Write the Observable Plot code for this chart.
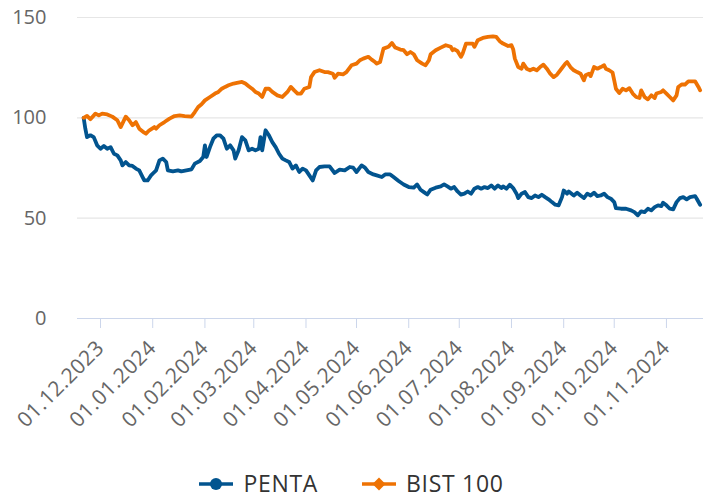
<!DOCTYPE html>
<html>
<head>
<meta charset="utf-8">
<script src="https://cdn.jsdelivr.net/npm/d3@7"></script>
<script src="https://cdn.jsdelivr.net/npm/@observablehq/plot@0.6"></script>
<style>
  html, body { margin: 0; padding: 0; background: #fff; overflow: hidden; }
  #chart svg { display: block; }
  #chart g[aria-label="x-axis tick label"] text { letter-spacing: 0.5px; }
  #legend { display: flex; justify-content: center; align-items: center; height: 31px; padding-top: 6px;
    font-family: "Open Sans", sans-serif; font-size: 23px; line-height: 31px; color: #333; letter-spacing: 0.7px; }
  .item { display: flex; align-items: center; }
  .item svg { margin-right: 10px; }
</style>
</head>
<body>
<div id="chart"></div>
<div id="legend"></div>
<script>
const seriesNames = ["PENTA", "BIST 100"];
const seriesColors = ["#02548f", "#ee7203"];
const yTicks = [0, 50, 100, 150];

const pentaDates = ["2023-11-21","2023-11-22","2023-11-23","2023-11-25","2023-11-27","2023-11-29","2023-12-01","2023-12-03","2023-12-05","2023-12-07","2023-12-09","2023-12-11","2023-12-13","2023-12-14","2023-12-16","2023-12-18","2023-12-20","2023-12-22","2023-12-24","2023-12-26","2023-12-27","2023-12-29","2023-12-31","2024-01-02","2024-01-03","2024-01-05","2024-01-07","2024-01-09","2024-01-10","2024-01-13","2024-01-16","2024-01-18","2024-01-21","2024-01-24","2024-01-26","2024-01-29","2024-01-31","2024-02-01","2024-02-02","2024-02-04","2024-02-06","2024-02-08","2024-02-10","2024-02-12","2024-02-14","2024-02-16","2024-02-18","2024-02-19","2024-02-21","2024-02-23","2024-02-25","2024-02-27","2024-02-29","2024-03-02","2024-03-04","2024-03-05","2024-03-06","2024-03-08","2024-03-10","2024-03-12","2024-03-14","2024-03-16","2024-03-18","2024-03-20","2024-03-22","2024-03-24","2024-03-26","2024-03-28","2024-03-30","2024-04-01","2024-04-03","2024-04-05","2024-04-07","2024-04-09","2024-04-12","2024-04-15","2024-04-18","2024-04-21","2024-04-24","2024-04-27","2024-04-29","2024-05-01","2024-05-04","2024-05-06","2024-05-08","2024-05-11","2024-05-13","2024-05-16","2024-05-18","2024-05-21","2024-05-23","2024-05-26","2024-05-29","2024-06-01","2024-06-04","2024-06-06","2024-06-08","2024-06-10","2024-06-12","2024-06-14","2024-06-17","2024-06-20","2024-06-22","2024-06-24","2024-06-26","2024-06-28","2024-06-30","2024-07-02","2024-07-04","2024-07-06","2024-07-08","2024-07-10","2024-07-12","2024-07-14","2024-07-16","2024-07-18","2024-07-20","2024-07-22","2024-07-24","2024-07-26","2024-07-27","2024-07-29","2024-07-31","2024-08-02","2024-08-04","2024-08-05","2024-08-07","2024-08-09","2024-08-11","2024-08-13","2024-08-15","2024-08-17","2024-08-19","2024-08-21","2024-08-23","2024-08-25","2024-08-27","2024-08-29","2024-08-31","2024-09-01","2024-09-03","2024-09-04","2024-09-07","2024-09-09","2024-09-11","2024-09-13","2024-09-15","2024-09-17","2024-09-19","2024-09-21","2024-09-23","2024-09-25","2024-09-27","2024-09-29","2024-10-01","2024-10-02","2024-10-05","2024-10-08","2024-10-11","2024-10-13","2024-10-15","2024-10-17","2024-10-19","2024-10-21","2024-10-23","2024-10-25","2024-10-27","2024-10-29","2024-10-30","2024-11-01","2024-11-03","2024-11-05","2024-11-07","2024-11-09","2024-11-11","2024-11-13","2024-11-15","2024-11-18","2024-11-19","2024-11-21"];
const pentaValues = [100,94.6,90.4,91.3,90.4,86.3,84.6,86.0,84.6,85.4,82.1,81.3,78.8,76.3,78.0,76.3,76.0,74.7,73.8,70.5,68.8,68.8,71.3,73.0,73.8,78.8,79.7,78.0,73.8,73.3,73.8,73.3,73.8,74.3,77.2,78.5,80.5,86.3,80.5,85.4,89.6,91.3,91.3,89.6,84.6,86.3,83.8,79.7,83.8,90.4,88.8,83.8,84.6,83.8,84.6,90.4,83.8,93.8,91.3,87.9,85.4,82.1,79.7,78.8,78.0,74.7,76.3,73.0,74.7,73.8,71.3,68.8,73.8,75.5,75.8,75.8,72.5,74.2,73.8,75.5,75.2,73.0,76.3,75.2,73.0,71.8,71.3,70.5,71.8,71.8,70.5,68.5,66.8,65.5,65.2,66.8,64.2,63.0,61.8,64.2,65.2,65.8,66.8,65.8,64.7,65.5,63.3,61.7,62.2,63.3,62.2,64.7,65.5,64.7,65.5,65.0,66.3,64.7,66.3,65.0,65.8,64.7,66.7,65.0,62.2,60.0,62.2,63.0,60.5,60.0,61.3,60.5,61.7,60.5,59.4,58.0,56.7,56.4,60.5,63.8,62.2,63.3,61.3,62.7,61.3,60.0,62.2,61.3,62.7,61.0,61.3,62.2,60.5,59.7,58.0,55.0,54.7,54.7,53.9,53.0,51.4,53.4,53.0,54.7,53.9,55.5,56.4,56.0,57.7,56.4,54.7,54.4,58.0,60.0,60.5,59.4,60.5,61.0,59.7,56.7];

const bistDates = ["2023-11-21","2023-11-23","2023-11-25","2023-11-28","2023-11-30","2023-12-02","2023-12-05","2023-12-08","2023-12-11","2023-12-13","2023-12-16","2023-12-18","2023-12-20","2023-12-22","2023-12-24","2023-12-27","2023-12-28","2023-12-30","2024-01-02","2024-01-03","2024-01-05","2024-01-08","2024-01-11","2024-01-14","2024-01-17","2024-01-20","2024-01-24","2024-01-26","2024-01-28","2024-01-30","2024-02-01","2024-02-04","2024-02-07","2024-02-09","2024-02-11","2024-02-13","2024-02-15","2024-02-18","2024-02-20","2024-02-23","2024-02-25","2024-02-27","2024-02-29","2024-03-02","2024-03-04","2024-03-06","2024-03-08","2024-03-10","2024-03-12","2024-03-15","2024-03-18","2024-03-21","2024-03-23","2024-03-25","2024-03-27","2024-03-29","2024-03-31","2024-04-03","2024-04-04","2024-04-06","2024-04-09","2024-04-12","2024-04-14","2024-04-17","2024-04-18","2024-04-20","2024-04-23","2024-04-25","2024-04-28","2024-05-01","2024-05-03","2024-05-05","2024-05-08","2024-05-10","2024-05-12","2024-05-13","2024-05-15","2024-05-17","2024-05-20","2024-05-22","2024-05-24","2024-05-27","2024-05-29","2024-05-31","2024-06-02","2024-06-04","2024-06-06","2024-06-09","2024-06-11","2024-06-13","2024-06-14","2024-06-17","2024-06-20","2024-06-23","2024-06-26","2024-06-27","2024-06-28","2024-06-30","2024-07-02","2024-07-03","2024-07-05","2024-07-07","2024-07-09","2024-07-10","2024-07-12","2024-07-15","2024-07-18","2024-07-21","2024-07-23","2024-07-25","2024-07-27","2024-07-30","2024-08-01","2024-08-02","2024-08-03","2024-08-05","2024-08-07","2024-08-08","2024-08-10","2024-08-12","2024-08-14","2024-08-16","2024-08-18","2024-08-20","2024-08-22","2024-08-24","2024-08-26","2024-08-28","2024-08-30","2024-09-02","2024-09-03","2024-09-05","2024-09-07","2024-09-09","2024-09-11","2024-09-13","2024-09-14","2024-09-16","2024-09-17","2024-09-19","2024-09-21","2024-09-23","2024-09-25","2024-09-26","2024-09-28","2024-09-30","2024-10-01","2024-10-02","2024-10-04","2024-10-06","2024-10-08","2024-10-10","2024-10-12","2024-10-14","2024-10-16","2024-10-17","2024-10-19","2024-10-21","2024-10-23","2024-10-25","2024-10-26","2024-10-29","2024-10-30","2024-11-01","2024-11-03","2024-11-05","2024-11-07","2024-11-08","2024-11-10","2024-11-12","2024-11-14","2024-11-16","2024-11-18","2024-11-20","2024-11-21"];
const bistValues = [100,101.0,99.3,102.1,101.2,102.1,101.7,100.6,98.8,95.4,100.6,98.8,96.3,97.9,94.6,92.6,92.1,93.8,95.4,94.6,96.3,97.9,99.6,100.9,101.2,100.9,100.6,102.9,105.4,106.8,108.7,110.4,112.1,112.9,114.5,115.4,116.2,117.1,117.4,117.9,117.1,115.7,114.5,112.9,112.1,110.4,114.5,114.5,112.9,111.2,110.4,112.9,115.4,113.7,112.1,112.1,114.5,115.4,120.3,122.8,123.7,122.8,122.8,122.0,120.0,122.0,121.7,122.8,126.2,127.0,128.7,129.5,130.4,129.0,127.8,127.0,127.8,134.5,135.4,137.3,135.0,134.0,133.7,131.7,132.8,131.7,128.7,127.0,126.2,128.7,131.7,133.7,135.0,136.2,135.4,133.7,134.2,133.2,130.4,132.0,137.0,137.0,137.0,135.4,138.7,139.8,140.3,140.6,140.3,138.2,137.0,135.8,136.2,134.2,129.5,125.3,124.5,127.0,124.5,123.7,124.5,123.7,125.3,126.5,124.5,122.0,120.3,121.5,123.7,127.0,127.8,125.3,123.7,122.8,122.0,118.7,121.2,122.0,120.8,125.3,124.5,125.3,126.2,124.5,123.7,122.6,118.7,114.5,112.4,114.5,113.7,114.8,112.1,110.4,109.9,113.7,110.4,109.2,111.2,109.9,112.1,112.9,113.7,112.1,110.4,108.7,111.2,115.4,116.6,116.6,118.2,118.2,118.2,115.4,113.7];

const rows = [
  ...pentaDates.map((d, i) => ({date: new Date(d), value: pentaValues[i], series: seriesNames[0]})),
  ...bistDates.map((d, i) => ({date: new Date(d), value: bistValues[i], series: seriesNames[1]}))
];

const monthTicks = d3.utcMonth.range(new Date("2023-12-01"), new Date("2024-11-02"));
const fmt = d3.utcFormat("%d.%m.%Y");

const chart = Plot.plot({
  width: 703,
  height: 462,
  marginLeft: 77,
  marginRight: 0,
  marginTop: 17,
  marginBottom: 144,
  style: {fontFamily: "'Open Sans', sans-serif", fontSize: "20px", background: "#fff"},
  x: {type: "utc", domain: [new Date("2023-11-17T08:24:00Z"), new Date("2024-11-23T00:00:00Z")]},
  y: {domain: [0, 150]},
  color: {domain: seriesNames, range: seriesColors},
  marks: [
    Plot.gridY([50, 100, 150], {stroke: "#e6e6e6", strokeOpacity: 1, strokeWidth: 1.2}),
    Plot.ruleY([0], {stroke: "#ccd6eb", strokeWidth: 1.2}),
    Plot.axisY(yTicks, {tickSize: 0, tickPadding: 31, fill: "#666", fontSize: 20, label: null}),
    Plot.axisX(monthTicks, {tickSize: 10, tickPadding: 16, stroke: "#ccd6eb", fill: "#666", tickRotate: -45, tickFormat: fmt, fontSize: 21, label: null}),
    Plot.lineY(rows, {x: "date", y: "value", z: "series", stroke: "series", strokeWidth: 3.8, strokeLinejoin: "round", strokeLinecap: "round"})
  ]
});
document.getElementById("chart").appendChild(chart);

const legend = document.getElementById("legend");
seriesNames.forEach((name, i) => {
  const item = document.createElement("div");
  item.className = "item";
  item.style.marginRight = i === 0 ? "44px" : "0";
  const c = seriesColors[i];
  const marker = i === 0
    ? `<circle cx="17" cy="8" r="6" fill="${c}"/>`
    : `<path d="M17 1.5 L23.5 8 L17 14.5 L10.5 8 Z" fill="${c}"/>`;
  item.innerHTML = `<svg width="34" height="16"><line x1="0" x2="34" y1="8" y2="8" stroke="${c}" stroke-width="3.5"/>${marker}</svg><span>${name}</span>`;
  legend.appendChild(item);
});
</script>
</body>
</html>
